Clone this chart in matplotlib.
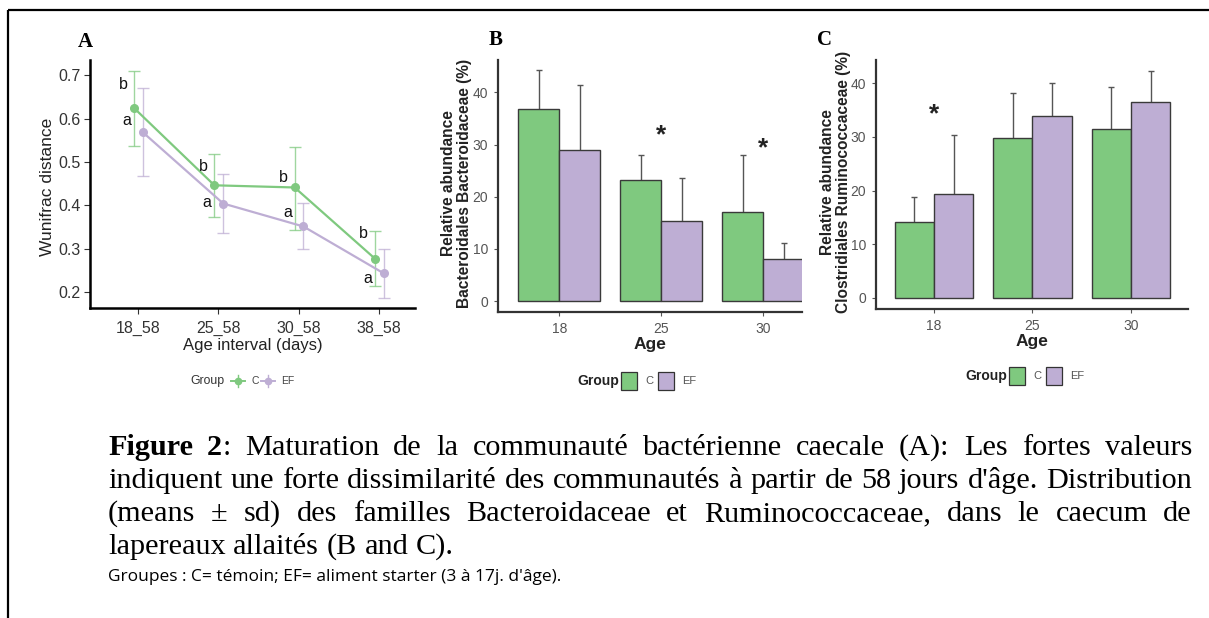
import matplotlib
matplotlib.use("Agg")
import matplotlib.pyplot as plt
from matplotlib.patches import Rectangle
import numpy as np

# ---------------- data ----------------
groups = ["C", "EF"]
a_intervals = ["18_58", "25_58", "30_58", "38_58"]
a_C_mean = [0.624, 0.446, 0.441, 0.277]
a_C_hi = [0.709, 0.518, 0.534, 0.340]
a_C_lo = [0.536, 0.372, 0.344, 0.213]
a_EF_mean = [0.568, 0.404, 0.351, 0.243]
a_EF_hi = [0.670, 0.471, 0.406, 0.300]
a_EF_lo = [0.467, 0.337, 0.300, 0.185]
a_C_letters = ["b", "b", "b", "b"]
a_C_letter_y = [0.679, 0.490, 0.464, 0.335]
a_EF_letters = ["a", "a", "a", "a"]
a_EF_letter_y = [0.596, 0.407, 0.384, 0.231]

ages = ["18", "25", "30"]
b_C_mean = [36.9, 23.2, 17.1]
b_C_top = [44.2, 27.9, 27.9]
b_EF_mean = [29.0, 15.4, 8.0]
b_EF_top = [41.5, 23.6, 11.1]
b_star_age = ["25", "30"]
b_star_y = [32.9, 30.4]

c_C_mean = [14.1, 29.8, 31.4]
c_C_top = [18.8, 38.1, 39.3]
c_EF_mean = [19.3, 33.9, 36.5]
c_EF_top = [30.3, 40.0, 42.2]
c_star_age = ["18"]
c_star_y = [35.3]

caption_lines = [
    "Figure 2: Maturation de la communauté bactérienne caecale (A): Les fortes valeurs",
    "indiquent une forte dissimilarité des communautés à partir de 58 jours d'âge. Distribution",
    "(means ± sd) des familles Bacteroidaceae et Ruminococcaceae, dans le caecum de",
    "lapereaux allaités (B and C).",
]
note_line = "Groupes : C= témoin; EF= aliment starter (3 à 17j. d'âge)."

# ---------------- style ----------------
GREEN = "#7FC97F"
PURPLE = "#BEAED4"
W, H = 1209, 618
SANS = ["Liberation Sans", "DejaVu Sans"]
SERIF = ["Liberation Serif", "DejaVu Serif"]

plt.rcParams["font.family"] = SANS
fig = plt.figure(figsize=(W / 100, H / 100), dpi=100)
renderer = fig.canvas.get_renderer()


def px_axes(x0, y0, x1, y1, **kw):
    return fig.add_axes([x0 / W, 1 - y1 / H, (x1 - x0) / W, (y1 - y0) / H], **kw)


# overlay in pixel coordinates
ov = fig.add_axes([0, 0, 1, 1], zorder=-5)
ov.set_xlim(0, W)
ov.set_ylim(H, 0)
ov.axis("off")
ov.plot([8, W], [9.5, 9.5], color="black", lw=1.6, solid_capstyle="butt")
ov.plot([8, 8], [9.5, H], color="black", lw=1.6, solid_capstyle="butt")

# ---------------- Panel A ----------------
axA = px_axes(90, 60, 415, 308)
xa = np.arange(1, len(a_intervals) + 1)
for mean, lo, hi, col, dx in [(a_C_mean, a_C_lo, a_C_hi, GREEN, -0.05),
                              (a_EF_mean, a_EF_lo, a_EF_hi, PURPLE, 0.06)]:
    m = np.array(mean)
    yerr = [m - np.array(lo), np.array(hi) - m]
    axA.errorbar(xa + dx, m, yerr=yerr, fmt="none", ecolor=col, elinewidth=1.0,
                 capsize=4, capthick=1.0, alpha=0.75, zorder=2)
    axA.plot(xa + dx, m, color=col, lw=1.6, marker="o", ms=5.5, zorder=3)
for i in range(len(a_intervals)):
    axA.text(xa[i] - 0.19, a_C_letter_y[i], a_C_letters[i], fontsize=11.5,
             ha="center", va="center", color="#111111")
    axA.text(xa[i] - 0.14, a_EF_letter_y[i], a_EF_letters[i], fontsize=11.5,
             ha="center", va="center", color="#111111")
axA.set_xlim(0.40, 4.45)
axA.set_ylim(0.163, 0.735)
axA.set_yticks([0.2, 0.3, 0.4, 0.5, 0.6, 0.7])
axA.set_yticklabels(["0.2", "0.3", "0.4", "0.5", "0.6", "0.7"])
axA.set_xticks(xa)
axA.set_xticklabels(a_intervals)
axA.tick_params(labelsize=11.5, colors="#333333", length=4, width=0.8)
axA.tick_params(axis="x", pad=5)
axA.tick_params(axis="y", pad=3)
for s in ["top", "right"]:
    axA.spines[s].set_visible(False)
for s in ["left", "bottom"]:
    axA.spines[s].set_color("black")
    axA.spines[s].set_linewidth(1.8)
axA.set_xlabel("Age interval (days)", fontsize=12, color="#222222", labelpad=1.5)
axA.patch.set_alpha(0)
ov.text(48, 187, "Wunifrac distance", fontsize=12.5, color="#222222", rotation=90,
        ha="center", va="center")


# ---------------- Bar panels ----------------
def bar_panel(rect, cm, ct, em, et, star_ages, star_ys, ylabel, lab_xy, ylim, xlim):
    ax = px_axes(*rect)
    x = np.arange(1, len(ages) + 1)
    w = 0.40
    for mean, top, col, off in [(cm, ct, GREEN, -w / 2), (em, et, PURPLE, w / 2)]:
        xs = x + off
        ax.vlines(xs, mean, top, color="#555555", lw=1.0, zorder=1)
        ax.hlines(top, xs - 0.03, xs + 0.03, color="#555555", lw=1.0, zorder=1)
        ax.bar(xs, mean, width=w, color=col, edgecolor="#3a3a3a", lw=1.0, zorder=2)
    for a, y in zip(star_ages, star_ys):
        ax.annotate("*", (ages.index(a) + 1, y), xytext=(0, -4), textcoords="offset points",
                    fontsize=19, fontweight="bold", ha="center", va="center",
                    color="#222222")
    ax.set_xlim(*xlim)
    ax.set_ylim(*ylim)
    ax.set_yticks([0, 10, 20, 30, 40])
    ax.set_xticks(x)
    ax.set_xticklabels(ages)
    ax.tick_params(labelsize=10, colors="#555555", length=3, width=0.8, pad=4)
    for s in ["top", "right"]:
        ax.spines[s].set_visible(False)
    for s in ["left", "bottom"]:
        ax.spines[s].set_color("#333333")
        ax.spines[s].set_linewidth(1.6)
    ax.set_xlabel("Age", fontsize=12.5, fontweight="bold", color="#222222", labelpad=1)
    ax.patch.set_alpha(0)
    ov.text(lab_xy[0], lab_xy[1], ylabel, fontsize=11.2, fontweight="bold",
            color="#222222", rotation=90, ha="center", va="center",
            multialignment="center", linespacing=1.05)
    return ax


axB = bar_panel((498, 60, 802, 312), b_C_mean, b_C_top, b_EF_mean, b_EF_top,
                b_star_age, b_star_y, "Relative abundance\nBacteroidales Bacteroidaceae (%)",
                (456.5, 183.5), (-2.1, 46.2), (0.40, 3.38))
axC = bar_panel((876, 60, 1188, 309), c_C_mean, c_C_top, c_EF_mean, c_EF_top,
                c_star_age, c_star_y, "Relative abundance\nClostridiales Ruminococcaceae (%)",
                (835.5, 182), (-2.05, 44.3), (0.41, 3.58))

# panel letters
for lab, x, y in [("A", 85, 42), ("B", 496, 40), ("C", 825, 40)]:
    ov.text(x, y, lab, fontsize=15, fontweight="bold", family=SERIF,
            ha="center", va="center", color="black")

# ---------------- legends ----------------
# A legend
ov.text(190, 381, "Group", fontsize=8.8, color="#333333", ha="left", va="center")
for x0, col, lab in [(231, GREEN, "C"), (261, PURPLE, "EF")]:
    ov.plot([x0, x0 + 14], [381, 381], color=col, lw=1.4)
    ov.plot([x0 + 7, x0 + 7], [375, 387], color=col, lw=1.0)
    ov.plot([x0 + 7], [381], marker="o", ms=4.5, color=col)
    ov.text(x0 + 20, 381, lab, fontsize=7.5, color="#444444", ha="left", va="center")

# B and C legends
for gx, gy in [(577, 381), (965, 376)]:
    ov.text(gx, gy, "Group", fontsize=10, fontweight="bold", color="#222222",
            ha="left", va="center")
    for dx, col, lab in [(44, GREEN, "C"), (81, PURPLE, "EF")]:
        ov.add_patch(Rectangle((gx + dx, gy - 9), 16, 18, facecolor=col,
                               edgecolor="#333333", lw=0.9))
        ov.text(gx + dx + 24, gy, lab, fontsize=8, color="#555555",
                ha="left", va="center")

# ---------------- caption (justified) ----------------
x_left, x_right = 108, 1192


def text_w(s, size, wgt="normal"):
    t = ov.text(0, 0, s, fontsize=size, family=SERIF, fontweight=wgt)
    w = t.get_window_extent(renderer).width
    t.remove()
    return w


# font size chosen so that the longest line just fills the text block
ref_w = text_w(caption_lines[1], 10.0)
CAP_SIZE = 10.0 * (x_right - x_left - 6) / ref_w
baselines = [455, 488, 521, 554]


def draw_word(x, y, segs):
    for s, wgt in segs:
        t = ov.text(x, y, s, fontsize=CAP_SIZE, family=SERIF, fontweight=wgt,
                    ha="left", va="baseline", color="black")
        x += t.get_window_extent(renderer).width


space_w = text_w("a a", CAP_SIZE) - text_w("aa", CAP_SIZE)
for li, (line, base) in enumerate(zip(caption_lines, baselines)):
    words = line.split(" ")
    segs_list = []
    for wi, wd in enumerate(words):
        if li == 0 and wi == 0:
            segs_list.append([(wd, "bold")])
        elif li == 0 and wi == 1:
            segs_list.append([("2", "bold"), (":", "normal")])
        else:
            segs_list.append([(wd, "normal")])
    widths = [sum(text_w(s, CAP_SIZE, g) for s, g in segs) for segs in segs_list]
    if li < len(caption_lines) - 1:
        gap = (x_right - x_left - sum(widths)) / (len(words) - 1)
    else:
        gap = space_w
    x = x_left
    for segs, wdt in zip(segs_list, widths):
        draw_word(x, base, segs)
        x += wdt + gap

ov.text(x_left, 581, note_line, fontsize=12.5, family=["Open Sans", "DejaVu Sans"],
        ha="left", va="baseline", color="black")

fig.savefig("out.png", dpi=100)
